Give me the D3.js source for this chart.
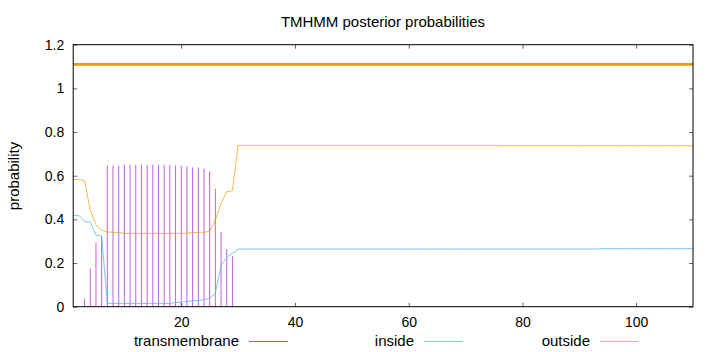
<!DOCTYPE html>
<html lang="en">
<head>
<meta charset="utf-8">
<title>TMHMM posterior probabilities</title>
<script src="https://d3js.org/d3.v7.min.js" charset="utf-8"></script>
<style>
  body { margin: 0; background: #fff; }
  text { font-family: "Liberation Sans", Arial, sans-serif; fill: #000; }
</style>
</head>
<body>
<script type="text/javascript">

 // residue positions 1..110
 var residues = d3.range(1, 111);

 // transmembrane posterior (impulses), residues 1..30, the rest are 0
 var tmHead = [0, 0, 0.037, 0.175, 0.292, 0.324, 0.646, 0.646, 0.646, 0.650,
               0.650, 0.650, 0.650, 0.650, 0.650, 0.650, 0.650, 0.649, 0.647, 0.646,
               0.643, 0.638, 0.637, 0.632, 0.620, 0.540, 0.342, 0.263, 0.232, 0.003];

 // inside posterior, residues 1..30, then plateau values
 var insideHead = [0.418, 0.418, 0.389, 0.388, 0.327, 0.324, 0.015, 0.015, 0.015, 0.015,
                   0.015, 0.015, 0.015, 0.015, 0.015, 0.015, 0.015, 0.015, 0.019, 0.021,
                   0.024, 0.027, 0.029, 0.032, 0.038, 0.061, 0.190, 0.226, 0.244, 0.264];

 // outside posterior, residues 1..30
 var outsideHead = [0.583, 0.583, 0.578, 0.443, 0.374, 0.351, 0.342, 0.341, 0.340, 0.336,
                    0.336, 0.336, 0.336, 0.336, 0.336, 0.336, 0.336, 0.336, 0.336, 0.336,
                    0.337, 0.339, 0.340, 0.341, 0.345, 0.397, 0.473, 0.527, 0.531, 0.739];

 var tm = residues.map(function (r) { return r <= 30 ? tmHead[r - 1] : 0; });
 var inside = residues.map(function (r) { return r <= 30 ? insideHead[r - 1] : (r < 94 ? 0.264 : 0.266); });
 var outside = residues.map(function (r) { return r <= 30 ? outsideHead[r - 1] : (r < 76 ? 0.739 : 0.737); });

 // predicted topology bar (all outside)
 var topology = [{start: 1, end: 110, level: 1.11, kind: "outside"}];

 var xTicks = [20, 40, 60, 80, 100];
 var yTicks = [0, 0.2, 0.4, 0.6, 0.8, 1, 1.2];

 var legendNames = ["transmembrane", "inside", "outside"];
 var legendColors = ["#9400d3", "#56b4e9", "#e69f00"];

 var width = 720, height = 352;
 var margin = {top: 44.7, right: 27, bottom: 45.3, left: 73.2};

 var svg = d3.select("body").append("svg")
	     .attr("width", width)
	     .attr("height", height);

 var xScale = d3.scaleLinear()
		.domain([1, 110])
		.range([margin.left, width - margin.right]);

 var yScale = d3.scaleLinear()
		.domain([0, 1.2])
		.range([height - margin.bottom, margin.top]);

 // axes with inward ticks, mirrored on the other sides
 var axL = svg.append("g")
	      .attr("transform", "translate(" + margin.left + ",0)")
	      .call(d3.axisLeft(yScale).tickValues(yTicks).tickSize(-4).tickPadding(9)
		      .tickFormat(function (d) { return String(d); }));
 var axR = svg.append("g")
	      .attr("transform", "translate(" + (width - margin.right) + ",0)")
	      .call(d3.axisRight(yScale).tickValues(yTicks).tickSize(-4).tickFormat(""));
 var axB = svg.append("g")
	      .attr("transform", "translate(0," + (height - margin.bottom) + ")")
	      .call(d3.axisBottom(xScale).tickValues(xTicks).tickSize(-4).tickPadding(10.5));
 var axT = svg.append("g")
	      .attr("transform", "translate(0," + margin.top + ")")
	      .call(d3.axisTop(xScale).tickValues(xTicks).tickSize(-4).tickFormat(""));

 [axL, axR, axB, axT].forEach(function (g) {
     g.select(".domain").remove();
     g.selectAll(".tick line").attr("stroke", "#000").attr("stroke-width", 0.6);
     g.selectAll(".tick text").style("font-size", "14px")
      .style("font-family", "'Liberation Sans', Arial, sans-serif").attr("fill", "#000");
 });

 // topology bar
 svg.selectAll(".topo")
    .data(topology)
    .enter()
    .append("line")
    .attr("class", "topo")
    .attr("x1", function (d) { return xScale(d.start); })
    .attr("x2", function (d) { return xScale(d.end); })
    .attr("y1", function (d) { return yScale(d.level); })
    .attr("y2", function (d) { return yScale(d.level); })
    .attr("stroke", "#e69f00")
    .attr("stroke-width", 2.6);

 // transmembrane impulses
 svg.selectAll(".imp")
    .data(residues.filter(function (r) { return tm[r - 1] > 0; }))
    .enter()
    .append("line")
    .attr("class", "imp")
    .attr("x1", function (r) { return xScale(r); })
    .attr("x2", function (r) { return xScale(r); })
    .attr("y1", yScale(0))
    .attr("y2", function (r) { return yScale(tm[r - 1]); })
    .attr("stroke", "#9400d3")
    .attr("stroke-opacity", 0.62)
    .attr("stroke-width", 1);

 var line = function (vals) {
     return d3.line()
	      .x(function (r) { return xScale(r); })
	      .y(function (r) { return yScale(vals[r - 1]); })(residues);
 };

 svg.append("path")
    .attr("d", line(inside))
    .attr("fill", "none")
    .attr("stroke", "#56b4e9")
    .attr("stroke-opacity", 0.75)
    .attr("stroke-width", 1);

 svg.append("path")
    .attr("d", line(outside))
    .attr("fill", "none")
    .attr("stroke", "#e69f00")
    .attr("stroke-opacity", 0.7)
    .attr("stroke-width", 1);

 // plot border
 svg.append("rect")
    .attr("x", margin.left)
    .attr("y", margin.top)
    .attr("width", width - margin.left - margin.right)
    .attr("height", height - margin.top - margin.bottom)
    .attr("fill", "none")
    .attr("stroke", "#000")
    .attr("stroke-width", 1);

 // title and axis label
 svg.append("text")
    .attr("x", 383)
    .attr("y", 27)
    .attr("text-anchor", "middle")
    .style("font-size", "15px")
    .text("TMHMM posterior probabilities");

 svg.append("text")
    .attr("transform", "translate(19,176) rotate(-90)")
    .attr("text-anchor", "middle")
    .style("font-size", "15px")
    .text("probability");

 // legend
 var legX = [239, 414, 590];
 var leg = svg.selectAll(".leg")
	      .data(legendNames)
	      .enter()
	      .append("g")
	      .attr("class", "leg");
 leg.append("text")
    .attr("x", function (d, i) { return legX[i]; })
    .attr("y", 346)
    .attr("text-anchor", "end")
    .style("font-size", "15px")
    .text(function (d) { return d; });
 leg.append("line")
    .attr("x1", function (d, i) { return legX[i] + 10; })
    .attr("x2", function (d, i) { return legX[i] + 49; })
    .attr("y1", 341.5)
    .attr("y2", 341.5)
    .attr("stroke", function (d, i) { return legendColors[i]; })
    .attr("stroke-opacity", 0.7)
    .attr("stroke-width", 1);

</script>
</body>
</html>
